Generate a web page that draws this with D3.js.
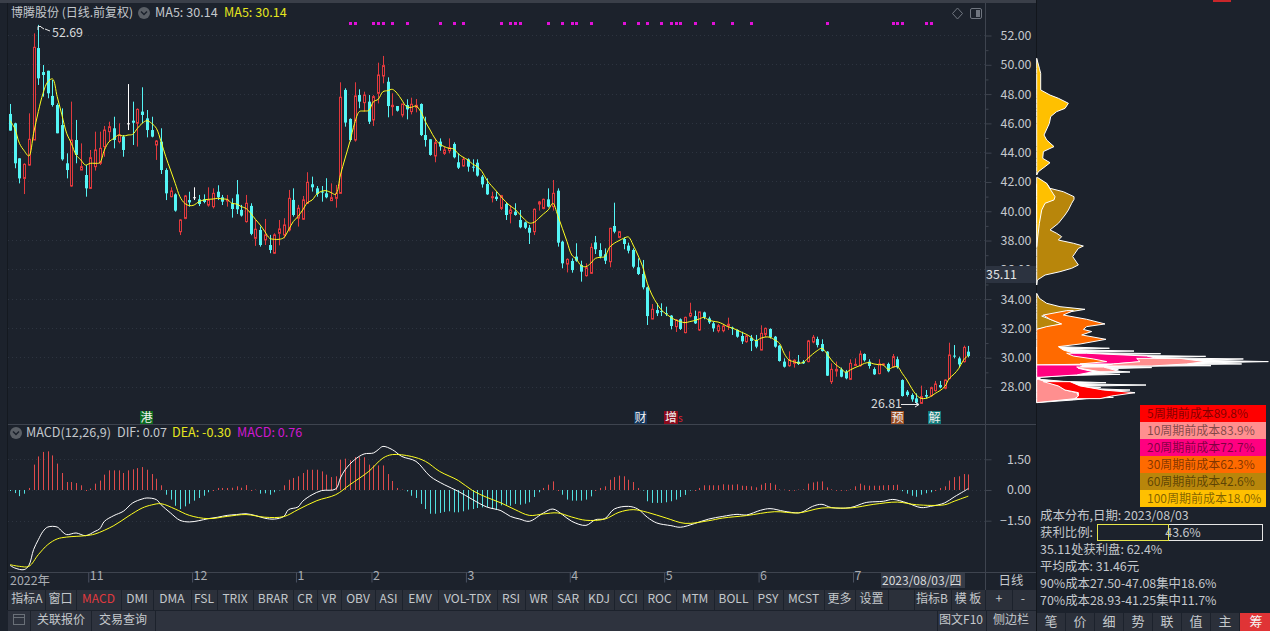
<!DOCTYPE html>
<html>
<head>
<meta charset="utf-8">
<title>博腾股份</title>
<script src="https://cdnjs.cloudflare.com/ajax/libs/d3/7.8.5/d3.min.js"></script>
<style>
html, body { margin: 0; padding: 0; background: #1c222c; overflow: hidden; }
svg { display: block; }
text { font-family: "Noto Sans CJK SC", "Noto Sans", sans-serif; font-size: 12.4px; fill: #c4c8cc; }
</style>
</head>
<body>
<svg id="chart" width="1270" height="631"></svg>
<script>
// candles, one entry per trading day
const opens = [46.61,45.97,43.58,42.21,43.12,44.83,51.11,49.47,49.56,47.84,
47.22,45.85,43.24,41.69,44.83,42.78,42.44,41.53,43.01,43.24,
44.38,45.40,45.63,44.72,45.06,45.97,46.15,45.97,46.77,46.31,
45.51,44.49,44.72,42.78,40.96,41.12,38.57,39.48,40.73,40.92,
40.78,40.78,40.39,40.28,41.30,40.92,40.67,40.51,41.12,40.06,
39.26,40.33,38.12,38.69,38.01,37.66,37.10,38.46,38.35,38.69,
40.74,39.49,39.42,40.51,41.81,41.53,41.31,41.19,40.69,40.85,
41.19,48.25,46.27,44.83,47.90,47.38,47.45,46.20,48.02,49.20,
48.81,47.11,47.15,46.54,47.22,46.77,47.06,47.29,45.17,44.88,
43.74,44.72,43.92,44.10,44.56,43.31,43.06,43.51,43.01,43.28,
42.33,41.83,40.89,40.96,40.16,40.46,39.82,39.94,39.37,39.21,
38.84,38.57,40.46,40.16,40.78,40.28,41.37,37.89,36.36,36.57,
36.87,36.30,35.57,35.73,37.84,37.32,37.03,36.52,38.96,38.18,
38.07,37.62,37.32,36.14,35.68,34.77,32.61,33.22,33.15,33.00,
32.84,32.09,32.59,31.68,32.81,32.81,31.86,33.06,32.65,32.31,
31.81,31.81,32.13,32.02,31.86,31.45,31.06,31.33,31.18,30.49,
31.56,31.93,31.40,30.79,29.70,29.42,29.58,29.70,29.70,29.70,
31.04,31.24,30.90,30.38,28.33,29.06,29.17,29.01,28.49,29.45,
29.42,30.22,29.70,29.19,28.88,29.47,29.54,29.35,29.86,28.44,
27.65,27.42,27.19,26.85,27.42,27.37,27.72,28.10,27.88,28.54,
30.11,29.92,29.70,30.38]
const closes = [45.47,43.24,42.21,43.17,44.88,51.16,49.04,49.27,48.02,47.22,
45.29,43.51,42.78,44.83,43.81,43.01,41.53,43.62,44.15,44.26,
45.51,45.74,44.83,45.17,44.15,45.97,46.01,46.92,46.54,45.51,
45.06,44.76,42.78,41.19,41.35,40.01,39.37,41.01,40.57,40.92,
40.46,40.60,40.73,41.19,40.92,40.62,40.73,40.12,40.10,39.67,
40.51,38.42,38.74,37.66,38.35,37.32,38.35,38.76,39.03,40.85,
39.71,40.17,40.74,41.94,41.60,41.15,41.24,40.92,40.89,41.19,
47.75,46.02,44.83,47.84,47.45,47.90,46.08,47.79,49.27,49.91,
47.15,47.20,46.83,47.29,46.92,47.27,47.20,45.17,44.83,43.81,
44.65,44.38,44.15,44.31,43.65,42.94,43.51,43.01,42.94,42.40,
41.80,41.12,40.96,40.80,41.03,39.71,40.05,39.71,38.87,38.84,
38.50,40.10,40.60,40.78,40.28,41.19,37.82,36.41,36.68,35.95,
36.59,35.84,36.11,37.50,37.37,36.87,36.59,38.80,38.57,38.57,
37.73,37.27,36.18,35.68,34.77,32.81,33.27,33.00,33.09,32.95,
32.13,32.54,31.93,32.72,33.00,32.31,33.09,32.72,32.38,31.97,
32.15,32.13,32.25,31.95,31.40,31.08,31.45,31.11,30.72,31.63,
31.97,31.36,30.72,29.74,29.35,29.81,29.79,29.54,29.58,31.11,
31.36,30.83,30.42,28.74,29.17,29.17,28.67,28.56,29.58,29.51,
30.22,29.79,29.40,28.83,29.54,29.54,29.04,30.04,29.31,27.35,
27.42,27.12,26.90,27.31,27.31,27.92,28.17,27.94,28.44,30.15,
30.04,29.51,30.67,30.08]
const highs = [47.29,46.01,43.58,43.24,46.65,52.11,52.69,49.95,49.56,48.93,
47.33,46.99,43.92,47.45,46.20,44.60,43.12,44.15,45.40,45.40,
45.79,46.08,46.42,45.97,45.17,48.65,47.45,46.99,48.43,46.88,
46.42,44.83,45.63,42.90,41.60,41.19,39.42,41.08,41.30,41.60,
41.08,41.12,41.60,41.53,41.74,41.08,41.08,40.85,42.10,40.40,
41.08,40.51,39.37,38.92,39.44,38.35,38.46,39.37,39.49,41.42,
41.53,40.40,41.01,42.63,42.33,41.69,41.69,42.22,41.87,41.76,
48.77,48.36,46.31,48.77,48.29,48.13,47.90,47.90,50.11,50.57,
49.11,48.02,47.15,47.29,47.61,47.72,47.63,47.33,46.42,44.88,
44.94,44.94,44.38,44.94,44.67,43.92,43.69,43.58,43.51,43.51,
42.44,42.21,41.30,41.30,41.08,40.55,40.39,40.51,40.05,39.26,
39.03,40.16,40.67,40.83,41.53,42.10,41.53,37.96,36.75,36.75,
37.78,36.59,36.41,37.78,38.28,37.78,37.43,38.84,40.55,38.62,
38.18,37.82,37.43,36.75,36.64,34.82,33.63,33.68,33.68,33.45,
32.88,32.59,32.65,32.77,33.72,33.18,33.11,33.11,32.77,32.43,
32.27,32.27,32.70,32.09,31.90,31.74,31.58,31.52,31.52,32.18,
32.02,31.97,31.45,30.83,29.92,30.40,29.86,30.15,29.81,31.18,
31.52,31.40,31.22,30.42,29.58,29.70,29.29,29.13,29.86,29.92,
30.45,30.26,29.86,29.31,29.86,29.58,29.63,30.22,30.04,28.49,
27.76,27.53,27.53,28.06,27.76,27.99,28.38,28.38,28.49,30.99,
30.83,30.04,30.79,30.77]
const lows = [45.47,42.90,41.87,41.14,43.08,44.83,48.59,47.79,47.68,47.11,
45.29,43.42,42.21,41.64,43.24,42.78,40.96,41.48,42.74,43.12,
43.69,44.72,44.26,44.60,43.69,45.51,44.49,44.38,45.97,45.01,
45.01,43.47,42.51,40.73,40.92,39.94,38.34,39.42,40.28,40.73,
40.32,40.51,40.28,40.16,40.73,40.39,40.28,39.53,39.78,39.60,
39.19,38.33,37.60,37.55,37.66,37.10,37.05,37.64,38.12,38.58,
39.60,38.92,39.37,40.46,41.31,40.96,40.62,40.85,40.69,40.21,
41.19,45.74,44.72,44.72,47.00,46.77,45.92,45.79,47.33,48.70,
46.38,46.49,46.77,46.38,46.24,46.58,46.72,45.10,44.38,43.76,
43.31,44.10,43.81,43.92,43.58,42.85,43.01,42.67,42.67,42.33,
41.58,41.08,40.57,40.67,40.05,39.37,39.14,39.66,38.80,38.75,
37.73,38.34,40.01,40.10,40.23,40.01,37.55,36.07,35.79,35.77,
36.52,35.16,35.50,35.68,37.05,36.75,36.36,36.14,38.46,38.12,
37.37,37.09,36.07,35.61,34.63,32.20,32.59,32.81,32.81,32.81,
31.90,31.72,31.86,31.63,32.72,32.27,31.79,32.59,32.27,31.74,
31.68,31.70,31.86,31.52,31.33,30.90,30.99,30.42,30.61,30.47,
31.36,31.27,30.65,29.70,29.29,29.35,29.29,29.47,29.54,29.65,
30.95,30.67,30.38,28.72,28.17,28.67,28.63,28.49,28.44,29.40,
29.35,29.70,29.22,28.79,28.83,29.40,28.97,29.31,29.22,27.31,
27.31,26.96,26.82,26.81,27.19,27.31,27.65,27.88,27.81,28.49,
29.92,29.31,29.63,29.99]
const ma5 = [46.15,45.63,44.60,44.10,43.74,45.29,46.77,48.02,48.81,49.00,
47.79,46.54,45.29,44.60,43.81,43.47,43.12,43.24,43.24,43.28,
44.15,44.72,44.94,45.17,45.10,45.17,45.22,45.63,45.97,46.15,
45.97,45.63,44.72,43.69,42.78,41.87,40.96,40.51,40.35,40.39,
40.62,40.73,40.78,40.80,40.85,40.80,40.78,40.51,40.46,40.28,
40.16,39.82,39.41,39.03,38.57,38.12,38.05,38.05,38.16,38.69,
39.26,39.60,40.05,40.55,40.73,41.14,41.33,41.37,41.24,41.12,
42.45,43.60,44.72,45.97,46.77,46.81,46.85,47.45,47.61,48.13,
48.20,48.29,48.02,47.56,47.11,47.06,47.15,46.77,46.08,45.51,
44.94,44.56,44.38,44.26,44.22,43.88,43.65,43.47,43.19,43.01,
42.67,42.10,41.71,41.35,40.96,40.62,40.32,40.10,39.75,39.41,
39.16,39.21,39.48,39.78,40.05,40.51,39.71,38.80,37.89,36.98,
36.68,36.25,36.18,36.41,36.75,36.82,36.87,37.50,37.78,37.96,
38.12,38.21,37.66,36.98,36.20,35.05,34.25,33.68,33.22,32.95,
32.72,32.54,32.43,32.36,32.43,32.50,32.61,32.72,32.54,32.45,
32.40,32.27,32.09,31.99,31.86,31.70,31.56,31.36,31.13,31.29,
31.38,31.36,31.18,30.95,30.26,29.81,29.70,29.60,29.63,29.92,
30.20,30.45,30.61,30.26,29.81,29.47,29.24,28.97,29.13,29.29,
29.42,29.58,29.63,29.54,29.49,29.47,29.17,29.31,29.35,28.90,
28.44,27.88,27.42,27.19,27.19,27.31,27.53,27.72,27.99,28.56,
28.85,29.24,29.81,30.14]

// macd histogram, one entry per trading day
const macdBars = [-0.05,-0.15,-0.30,-0.18,0.10,1.24,1.64,1.86,1.89,1.69,
1.29,0.83,0.39,0.39,0.34,0.23,0.00,0.07,0.31,0.46,
0.75,0.96,0.96,0.96,0.83,0.96,1.01,1.07,1.12,0.99,
0.78,0.55,0.23,-0.23,-0.47,-0.77,-0.93,-0.80,-0.67,-0.52,
-0.39,-0.28,-0.11,0.00,0.10,0.10,0.10,0.11,0.18,0.11,
0.24,0.00,0.02,-0.18,-0.16,-0.23,-0.11,-0.02,0.23,0.50,
0.59,0.67,0.83,0.99,0.99,0.99,0.91,0.75,0.63,0.67,
1.48,1.53,1.45,1.61,1.61,1.60,1.24,1.20,1.20,1.20,
0.78,0.44,0.10,0.02,-0.07,-0.28,-0.39,-0.68,-0.93,-1.16,
-1.16,-1.12,-1.07,-1.04,-1.09,-1.09,-1.04,-0.96,-0.93,-0.88,
-0.85,-0.83,-0.93,-0.96,-0.75,-0.72,-0.77,-0.68,-0.72,-0.67,
-0.60,-0.34,-0.11,0.10,0.26,0.42,0.00,-0.23,-0.47,-0.52,
-0.52,-0.52,-0.47,-0.31,0.00,0.10,0.18,0.50,0.63,0.70,
0.67,0.50,0.39,0.10,-0.03,-0.55,-0.63,-0.63,-0.63,-0.60,
-0.55,-0.47,-0.34,-0.24,-0.03,0.00,0.10,0.23,0.23,0.23,
0.23,0.28,0.26,0.26,0.28,0.21,0.20,0.18,0.13,0.26,
0.34,0.34,0.26,0.03,0.02,0.00,0.01,0.02,0.03,0.31,
0.37,0.41,0.42,0.13,0.03,0.01,0.01,0.01,0.03,0.18,
0.31,0.23,0.21,0.21,0.21,0.23,0.24,0.24,0.26,-0.01,
-0.18,-0.28,-0.33,-0.23,-0.16,-0.11,0.00,0.10,0.18,0.46,
0.63,0.67,0.78,0.76]

// dif and dea read at the days listed next to them
const difDays = [0,1,3,4,5,6,7,8,10,11,12,14,16,18,19,20,22,24,26,28,29,31,32,34,36,38,40,42,44,46,48,50,52,54,56,58,59,61,62,64,66,69,70,71,73,75,77,78,79,81,83,86,89,92,95,98,101,104,106,108,110,113,115,117,119,122,124,126,128,131,133,135,137,140,142,145,148,151,154,156,159,161,164,167,168,170,172,174,178,181,182,185,187,190,193,195,198,200,202,203]
const difValues = [-3.68,-3.81,-3.89,-3.68,-2.91,-2.43,-2.02,-1.81,-1.81,-2.02,-2.18,-2.10,-2.23,-2.02,-1.90,-1.53,-1.25,-1.04,-0.63,-0.44,-0.39,-0.47,-0.72,-1.12,-1.48,-1.56,-1.50,-1.40,-1.33,-1.24,-1.20,-1.16,-1.25,-1.38,-1.42,-1.29,-0.96,-0.83,-0.55,-0.23,-0.03,0.05,0.59,0.99,1.48,1.76,1.81,1.97,2.13,1.97,1.64,1.40,0.67,0.26,-0.07,-0.47,-0.83,-1.01,-1.29,-1.42,-1.53,-1.12,-0.93,-1.20,-1.53,-1.73,-1.45,-1.40,-0.93,-0.80,-0.93,-1.33,-1.61,-1.74,-1.82,-1.64,-1.42,-1.29,-1.19,-1.22,-0.99,-0.91,-1.04,-1.12,-1.06,-0.80,-0.70,-0.86,-0.86,-0.63,-0.59,-0.55,-0.46,-0.63,-0.86,-0.80,-0.63,-0.34,-0.07,0.07]
const deaDays = [0,2,4,6,8,10,12,16,18,22,25,28,30,32,35,38,42,46,50,54,58,61,65,69,72,76,79,81,85,88,91,95,98,101,104,107,110,113,116,119,122,126,129,132,135,139,143,148,151,156,162,167,172,178,183,188,192,198,200,203]
const deaValues = [-3.65,-3.73,-3.73,-3.16,-2.67,-2.39,-2.30,-2.23,-2.15,-1.74,-1.29,-0.88,-0.73,-0.67,-0.93,-1.24,-1.40,-1.29,-1.20,-1.33,-1.30,-0.96,-0.52,-0.23,0.26,0.91,1.56,1.73,1.64,1.40,0.91,0.46,-0.03,-0.36,-0.63,-0.96,-1.24,-1.17,-1.12,-1.32,-1.48,-1.42,-1.09,-0.96,-1.09,-1.37,-1.63,-1.50,-1.37,-1.25,-1.06,-1.12,-0.88,-0.88,-0.70,-0.59,-0.72,-0.72,-0.55,-0.30]

// signal dots along the top of the price panel
const signalDays = [72,73,77,78,79,81,84,91,94,96,104,106,107,108,114,117,119,120,123,130,133,135,138,140,141,142,145,149,153,157,173,187,188,189,194,195]

// month labels
const monthStartDays = [17,39,61,77,97,119,139,159,179]
const monthLabels = ["11","12","1","2","3","4","5","6","7"]

// axis ticks
const priceTicks = [52,50,48,46,44,42,40,38,36,34,32,30,28]
const minorPriceTicks = [51,49,47,45,43,41,39,37,35,33,31,29]
const macdTicks = [1.5,0,-1.5]

// cost distribution, price levels with a left and right extent for each band
const chipWhitePrices = [30.72,30.61,30.52,30.42,30.33,30.24,30.15,30.06,29.97,29.88,29.79,29.70,29.61,29.54,29.47,29.42,29.35,29.29,29.22,29.15,29.08,28.99,28.90,28.83,28.74,28.63,28.49,28.35,28.26,28.19,28.10,28.01,27.94,27.85,27.76,27.67,27.58,27.49,27.42,27.33,27.26,27.17,27.08,26.90]
const chipWhiteRight = [65,218,80,292,100,372,180,507,340,620,500,695,500,615,340,523,130,345,210,245,220,280,180,250,80,10,10,80,208,110,328,120,192,170,280,200,295,200,232,180,230,150,110,0]
const chipYellowTopPrices = [50.41,49.73,49.38,48.25,47.90,47.68,47.34,46.99,46.77,46.43,45.97,45.17,44.83,44.38,44.04,43.58,43.28,43.01,42.67,42.44]
const chipYellowTopRight = [0,8,12,12,40,65,95,85,60,42,38,22,30,52,20,18,40,25,5,0]
const chipGoldPrices = [41.87,41.53,41.30,40.96,40.78,40.51,40.05,39.71,39.14,38.69,38.46,38.23,38.00,37.78,37.59,37.43,36.87,36.30,36.07,35.84,35.61,35.27,34.93]
const chipGoldRight = [30,40,80,112,112,105,95,85,65,40,60,75,65,110,140,125,108,125,105,70,25,2,0]
const chipYellowLowPrices = [42.28,41.87,41.42,40.96,40.74,40.51,40.05,39.14,38.00,37.55]
const chipYellowLowRight = [2,30,42,55,52,25,15,8,2,0]
const chipGoldLowPrices = [34.36,34.02,33.68,33.45,33.27,33.04,32.81,32.59,32.27,31.90]
const chipGoldLowRight = [0,8,30,70,145,85,15,40,75,0]
const chipOrangePrices = [33.18,32.88,32.59,32.27,32.09,31.90,31.75,31.52,31.22,30.90,30.72,30.49,30.15,29.81,29.54,29.47]
const chipOrangeLeft = [90,20,40,75,30,0,0,0,0,0,0,0,0,0,0,0]
const chipOrangeRight = [110,80,150,205,150,140,165,135,208,130,65,80,130,230,180,0]
const chipPinkTopPrices = [30.27,30.08,29.88,29.70,29.54]
const chipPinkTopLeft = [90,110,170,210,130]
const chipPinkTopRight = [150,330,370,320,230]
const chipPinkLowPrices = [29.47,29.24,29.01,28.79,28.63]
const chipPinkLowRight = [140,125,170,120,10]
const chipSalmonTopPrices = [29.92,29.70,29.54,29.40]
const chipSalmonTopLeft = [300,310,230,200]
const chipSalmonTopRight = [430,505,450,345]
const chipSalmonMidPrices = [29.33,29.24,29.01]
const chipSalmonMidLeft = [120,130,190]
const chipSalmonMidRight = [200,215,250]
const chipSalmonLowPrices = [28.49,28.04,27.76,27.58,27.35,27.17,26.90]
const chipSalmonLowRight = [5,65,85,120,125,115,0]
const chipRedPrices = [28.33,28.04,27.76,27.58,27.35,27.17]
const chipRedLeft = [20,65,85,125,125,115]
const chipRedRight = [100,130,200,295,225,190]

// tabs under the chart
const tabLabels = ["指标A","窗口","MACD","DMI","DMA","FSL","TRIX","BRAR","CR","VR","OBV","ASI","EMV","VOL-TDX","RSI","WR","SAR","KDJ","CCI","ROC","MTM","BOLL","PSY","MCST","更多","设置"]
const tabEdges = [9,45,76,121,153,191,217,253,293,317,341,375,402,438,497,525,552,584,614,643,676,714,753,783,824,855,888]
const sideTabLabels = ["笔","价","细","势","联","值","主","筹"]

const costLegend = ["5周期前成本89.8%","10周期前成本83.9%","20周期前成本72.7%","30周期前成本62.3%","60周期前成本42.6%","100周期前成本18.0%"]
const costColors = ["#ff0000","#ff8f8f","#ff0080","#ff6a00","#b8860b","#ffc000"]

const BG = "#1c222c"
const BAR = "#2b303a"
const LINE = "#3e444f"
const RED = "#e2393d"
const CYAN = "#54f5f5"

let svg = d3.select("#chart")

function addText(x, y, str, color, anchor) {
    return svg.append("text").attr("x", x).attr("y", y).attr("text-anchor", anchor || "start")
        .style("fill", color || "#c4c8cc").text(str)
}

let days = d3.range(opens.length)
let x = d3.scaleLinear().domain([0, opens.length - 1]).range([10, 968.3])
let yPrice = d3.scaleLinear().domain([28, 52]).range([386.5, 35])
let yMacd = d3.scaleLinear().domain([-1.5, 1.5]).range([520.7, 459.3])

// background and frame
svg.append("rect").attr("width", 1270).attr("height", 631).attr("fill", BG)
svg.append("rect").attr("width", 1036).attr("height", 3).attr("fill", "#3a3f49")
svg.append("rect").attr("x", 1213).attr("y", 0).attr("width", 18).attr("height", 2).attr("fill", "#c8262a")
svg.append("line").attr("x1", 7.5).attr("x2", 7.5).attr("y1", 3).attr("y2", 610).attr("stroke", "#141920")
svg.append("line").attr("x1", 8).attr("x2", 1036).attr("y1", 424.5).attr("y2", 424.5).attr("stroke", LINE)
svg.append("line").attr("x1", 8).attr("x2", 1036).attr("y1", 572.5).attr("y2", 572.5).attr("stroke", LINE)
svg.append("line").attr("x1", 985.5).attr("x2", 985.5).attr("y1", 3).attr("y2", 590).attr("stroke", LINE)
svg.append("line").attr("x1", 1036.5).attr("x2", 1036.5).attr("y1", 0).attr("y2", 631).attr("stroke", "#12161c")

// price axis with dotted grid
let priceAxis = svg.append("g").attr("transform", "translate(985.5,0.5)")
    .call(d3.axisRight(yPrice).tickValues(priceTicks).tickFormat(d3.format(".2f")).tickSize(6).tickPadding(9))
priceAxis.select(".domain").remove()
priceAxis.selectAll("line").attr("stroke", LINE)
priceAxis.selectAll("text").style("fill", "#c4c8cc")

let minorAxis = svg.append("g").attr("transform", "translate(985.5,0.5)")
    .call(d3.axisRight(yPrice).tickValues(minorPriceTicks).tickFormat("").tickSize(3))
minorAxis.select(".domain").remove()
minorAxis.selectAll("line").attr("stroke", LINE)

svg.append("g").selectAll("line").data(priceTicks).join("line")
    .attr("x1", 8).attr("x2", 985)
    .attr("y1", d => Math.round(yPrice(d)) + 0.5).attr("y2", d => Math.round(yPrice(d)) + 0.5)
    .attr("stroke", "#2d3440").attr("stroke-dasharray", "1,3")

// macd axis with dotted grid
let macdAxis = svg.append("g").attr("transform", "translate(985.5,0)")
    .call(d3.axisRight(yMacd).tickValues(macdTicks).tickFormat(d3.format(".2f")).tickSize(6).tickPadding(9))
macdAxis.select(".domain").remove()
macdAxis.selectAll("line").attr("stroke", LINE)
macdAxis.selectAll("text").style("fill", "#c4c8cc").attr("x", 45.5).attr("text-anchor", "end")

svg.append("g").selectAll("line").data(macdTicks).join("line")
    .attr("x1", 8).attr("x2", 985)
    .attr("y1", d => Math.round(yMacd(d)) + 0.5).attr("y2", d => Math.round(yMacd(d)) + 0.5)
    .attr("stroke", "#2d3440").attr("stroke-dasharray", "1,3")

// current price tag
svg.append("rect").attr("x", 986).attr("y", 266).attr("width", 50).attr("height", 17).attr("fill", "#2c3340")
addText(986, 279, "35.11", "#e2e4e6")

// signal dots
svg.append("g").selectAll("rect").data(signalDays).join("rect")
    .attr("x", d => Math.round(x(d)) - 1).attr("y", 22).attr("width", 3).attr("height", 3).attr("fill", "#e010d8")

// candles
function candleColor(d) {
    if (opens[d] == closes[d]) return "#ffffff"
    return closes[d] > opens[d] ? RED : CYAN
}

let candles = svg.append("g")
candles.selectAll("line").data(days).join("line")
    .attr("x1", d => Math.round(x(d)) + 0.5).attr("x2", d => Math.round(x(d)) + 0.5)
    .attr("y1", d => yPrice(highs[d])).attr("y2", d => yPrice(lows[d]))
    .attr("stroke", candleColor)

candles.selectAll("rect").data(days).join("rect")
    .attr("x", d => Math.round(x(d)) + (closes[d] > opens[d] ? -0.5 : -1))
    .attr("width", d => closes[d] > opens[d] ? 2 : 3)
    .attr("y", d => yPrice(Math.max(opens[d], closes[d])))
    .attr("height", d => Math.max(Math.abs(yPrice(opens[d]) - yPrice(closes[d])), 1))
    .attr("fill", d => closes[d] > opens[d] ? BG : candleColor(d))
    .attr("stroke", d => closes[d] > opens[d] ? RED : "none")

// ma5
let maLine = d3.line().x((d, i) => x(i)).y(d => yPrice(d)).curve(d3.curveCatmullRom.alpha(0.5))
svg.append("path").attr("d", maLine(ma5)).attr("fill", "none").attr("stroke", "#ffff20").attr("stroke-width", 1)

// high and low notes
svg.append("path").attr("d", "M38 30V26.5H41M41 27L44 29M45 29L50 31").attr("fill", "none").attr("stroke", "#e8e8e8")
addText(52, 37, "52.69", "#d8dadc")
addText(871, 407.5, "26.81", "#d8dadc")
svg.append("path").attr("d", "M901 404.5H919M915 402L919 404.5L915 407").attr("fill", "none").attr("stroke", "#e8e8e8")

// event badges
function badge(x0, w, fill, str) {
    svg.append("rect").attr("x", x0).attr("y", 411).attr("width", w).attr("height", 13).attr("fill", fill)
    addText(x0 + w / 2, 421.5, str, "#f0f0f0", "middle").style("font-size", "12px")
}
badge(140, 13, "#0b6a20", "港")
badge(634, 13, "#12345a", "财")
badge(664, 14, "#8c0a1c", "增")
addText(678, 422, "s", "#d82030").style("font-size", "10px")
badge(891, 13, "#9a4c22", "预")
badge(928, 13, "#0f7a7a", "解")

// macd bars and lines
svg.append("g").selectAll("line").data(days).join("line")
    .attr("x1", d => Math.round(x(d)) + 0.5).attr("x2", d => Math.round(x(d)) + 0.5)
    .attr("y1", yMacd(0))
    .attr("y2", d => yMacd(macdBars[d]) + (Math.abs(macdBars[d]) < 0.02 ? 1 : 0))
    .attr("stroke", d => macdBars[d] >= 0 ? "#e04b4b" : "#52e0e0")

let macdLine = d3.line().x(d => x(d[0])).y(d => yMacd(d[1])).curve(d3.curveCatmullRom.alpha(0.5))
svg.append("path").attr("d", macdLine(d3.zip(difDays, difValues))).attr("fill", "none").attr("stroke", "#ffffff")
svg.append("path").attr("d", macdLine(d3.zip(deaDays, deaValues))).attr("fill", "none").attr("stroke", "#ffff20")

// cost distribution, drawn against the same price scale as the candles
let chipX = d3.scaleLinear().domain([0, 700]).range([1036.7, 1270])

function chipBand(prices, left, right, color, edge) {
    let area = d3.area().y(d => yPrice(d[0]))
        .x0(d => chipX(d[1])).x1(d => chipX(d[2]))
    let rows = prices.map((p, i) => [p, left ? left[i] : 0, right[i]])
    svg.append("path").attr("d", area(rows)).attr("fill", color)
        .attr("stroke", edge || "#ffffff").attr("stroke-width", 1)
}

chipBand(chipWhitePrices, null, chipWhiteRight, "#ffffff")
chipBand(chipYellowTopPrices, null, chipYellowTopRight, costColors[5])
chipBand(chipGoldPrices, null, chipGoldRight, costColors[4])
chipBand(chipYellowLowPrices, null, chipYellowLowRight, costColors[5])
chipBand(chipGoldLowPrices, null, chipGoldLowRight, costColors[4])
chipBand(chipOrangePrices, chipOrangeLeft, chipOrangeRight, costColors[3])
chipBand(chipPinkTopPrices, chipPinkTopLeft, chipPinkTopRight, costColors[2])
chipBand(chipPinkLowPrices, null, chipPinkLowRight, costColors[2])
chipBand(chipSalmonTopPrices, chipSalmonTopLeft, chipSalmonTopRight, costColors[1])
chipBand(chipSalmonMidPrices, chipSalmonMidLeft, chipSalmonMidRight, costColors[1])
chipBand(chipSalmonLowPrices, null, chipSalmonLowRight, costColors[1])
chipBand(chipRedPrices, chipRedLeft, chipRedRight, costColors[0])

// cost legend
let legendRows = svg.append("g").selectAll("g").data(costLegend).join("g")
    .attr("transform", (d, i) => `translate(1140,${405 + i * 17})`)
legendRows.append("rect").attr("width", 126).attr("height", 17).attr("fill", (d, i) => costColors[i])
legendRows.append("text").attr("x", 7).attr("y", 13).style("font-size", "12px").style("fill", "#000").style("fill-opacity", 0.5).text(d => d)

// cost summary text
addText(1040, 520, "成本分布,日期: 2023/08/03")
addText(1040, 537, "获利比例:")
svg.append("rect").attr("x", 1097.5).attr("y", 524.5).attr("width", 165).attr("height", 16).attr("fill", "none").attr("stroke", "#e6e6e6")
svg.append("rect").attr("x", 1097.5).attr("y", 524.5).attr("width", 71).attr("height", 16).attr("fill", "none").attr("stroke", "#e6e64a")
addText(1183, 537, "43.6%", "#c4c8cc", "middle")
addText(1040, 554, "35.11处获利盘: 62.4%")
addText(1040, 571, "平均成本: 31.46元")
addText(1040, 588, "90%成本27.50-47.08集中18.6%")
addText(1040, 605, "70%成本28.93-41.25集中11.7%")

// headers
addText(11, 17, "博腾股份 (日线.前复权)").style("font-size", "12px")
svg.append("circle").attr("cx", 144).attr("cy", 13).attr("r", 6).attr("fill", "#5a5f66")
svg.append("path").attr("d", "M141 11.5L144 14.5L147 11.5").attr("fill", "none").attr("stroke", "#1c222c").attr("stroke-width", 1.5)
addText(155, 17, "MA5: 30.14").style("font-size", "12.6px")
addText(224, 17, "MA5: 30.14", "#e6e61e").style("font-size", "12.6px")
svg.append("path").attr("d", "M957.5 8L962.5 13.5L957.5 19L952.5 13.5Z").attr("fill", "none").attr("stroke", "#707680")
svg.append("rect").attr("x", 970.5).attr("y", 8.5).attr("width", 11).attr("height", 10).attr("rx", 1.5).attr("fill", "none").attr("stroke", "#707680")
svg.append("rect").attr("x", 976).attr("y", 10).attr("width", 4).attr("height", 7).attr("fill", "#707680")

svg.append("circle").attr("cx", 16).attr("cy", 433).attr("r", 6).attr("fill", "#5a5f66")
svg.append("path").attr("d", "M13 431.5L16 434.5L19 431.5").attr("fill", "none").attr("stroke", "#1c222c").attr("stroke-width", 1.5)
addText(26, 437, "MACD(12,26,9)").style("font-size", "12.6px")
addText(117, 437, "DIF: 0.07").style("font-size", "12.6px")
addText(172, 437, "DEA: -0.30", "#e6e61e").style("font-size", "12.6px")
addText(237, 437, "MACD: 0.76", "#d018d0").style("font-size", "12.6px")

// month axis, the tick sits just left of its label
let monthAxis = svg.append("g").attr("transform", "translate(0,572.5)")
    .call(d3.axisBottom(x).tickValues(monthStartDays).tickFormat((d, i) => monthLabels[i]).tickSize(10).tickPadding(-8))
monthAxis.select(".domain").remove()
monthAxis.selectAll("line").attr("x1", -2).attr("x2", -2).attr("stroke", "#4a5160")
monthAxis.selectAll("text").attr("text-anchor", "start").attr("dx", -1).attr("dy", 5).style("fill", "#a9adb3")
addText(10, 585, "2022年", "#a9adb3")

svg.append("rect").attr("x", 881).attr("y", 573).attr("width", 84).attr("height", 15).attr("fill", "#353b47")
addText(882, 585, "2023/08/03/四", "#d8dadc").style("font-size", "12px")
addText(1011, 585, "日线", "#c4c8cc", "middle")

// tab bar
svg.append("rect").attr("x", 8).attr("y", 590).attr("width", 1028).attr("height", 20).attr("fill", BAR)
tabLabels.forEach((label, i) => {
    let mid = (tabEdges[i] + tabEdges[i + 1]) / 2
    addText(mid, 603, label, label == "MACD" ? "#e03a3f" : "#c4c8cc", "middle").style("font-size", "12px")
    svg.append("line").attr("x1", tabEdges[i + 1] + 0.5).attr("x2", tabEdges[i + 1] + 0.5)
        .attr("y1", 590).attr("y2", 610).attr("stroke", BG)
})
addText(932, 603, "指标B", "#c4c8cc", "middle").style("font-size", "12px")
addText(968, 603, "模 板", "#c4c8cc", "middle").style("font-size", "12px")
addText(999, 603, "+", "#c4c8cc", "middle")
addText(1023, 603, "-", "#c4c8cc", "middle")
;[914, 951, 985, 1012].forEach(px => {
    svg.append("line").attr("x1", px + 0.5).attr("x2", px + 0.5).attr("y1", 590).attr("y2", 610).attr("stroke", BG)
})

// bottom bar
svg.append("rect").attr("x", 8).attr("y", 611).attr("width", 1028).attr("height", 20).attr("fill", "#2e333e")
;[30, 91, 155, 937, 986].forEach(px => {
    svg.append("line").attr("x1", px + 0.5).attr("x2", px + 0.5).attr("y1", 611).attr("y2", 631).attr("stroke", BG)
})
svg.append("rect").attr("x", 13.5).attr("y", 614.5).attr("width", 11).attr("height", 10).attr("fill", "none").attr("stroke", "#6a7078")
svg.append("line").attr("x1", 14).attr("x2", 24).attr("y1", 617.5).attr("y2", 617.5).attr("stroke", "#6a7078")
addText(61, 624, "关联报价", "#c4c8cc", "middle").style("font-size", "12px")
addText(123, 624, "交易查询", "#c4c8cc", "middle").style("font-size", "12px")
addText(961, 624, "图文F10", "#c4c8cc", "middle").style("font-size", "12px")
addText(1011, 624, "侧边栏", "#c4c8cc", "middle").style("font-size", "12px")

// side tabs
sideTabLabels.forEach((label, i) => {
    let x0 = 1037 + i * 29
    let last = i == sideTabLabels.length - 1
    svg.append("rect").attr("x", x0).attr("y", 613).attr("width", last ? 1270 - x0 : 28).attr("height", 18)
        .attr("fill", last ? "#e03436" : BAR)
    addText(x0 + 14 + (last ? 2 : 0), 626, label, last ? "#f4f4f4" : "#c4c8cc", "middle").style("font-size", "13px")
})
</script>
</body>
</html>
